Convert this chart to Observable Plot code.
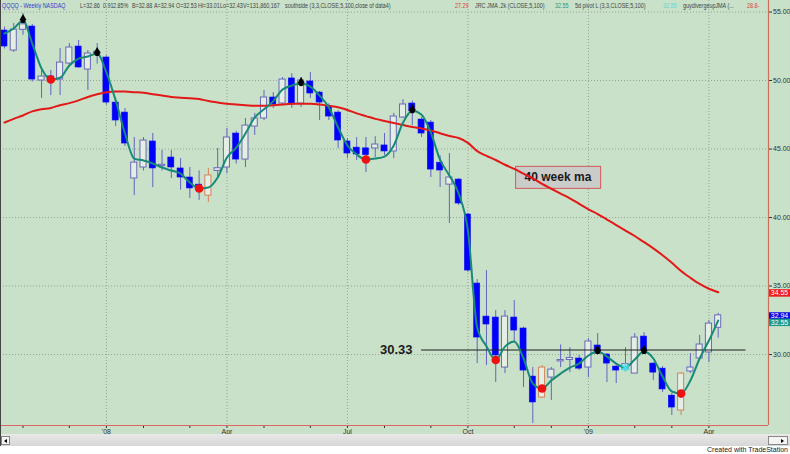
<!DOCTYPE html>
<html><head><meta charset="utf-8">
<script src="https://cdn.jsdelivr.net/npm/d3@7"></script>
<script src="https://cdn.jsdelivr.net/npm/@observablehq/plot@0.6"></script>
<style>
body{margin:0;background:#fff;}
#wrap{position:relative;width:790px;height:454px;overflow:hidden;font-family:"Liberation Sans",Arial,sans-serif;}
#chart svg{display:block;}
#hdr{position:absolute;top:0;left:0;width:790px;height:11px;font-size:7.5px;line-height:11px;color:#444;}
#hdr span{position:absolute;top:0;white-space:nowrap;transform:scaleX(0.72);transform-origin:0 0;}
#scroll{position:absolute;left:0;top:434px;width:790px;height:12px;background:linear-gradient(#e8e8e8,#d6d6d6);}
#lbtn{position:absolute;left:1px;top:2px;width:9px;height:9px;background:#f4f4f4;border:1px solid #888;box-sizing:border-box;}
#lbtn:after{content:"";position:absolute;left:2px;top:2px;border-right:3px solid #000;border-top:2px solid transparent;border-bottom:2px solid transparent;}
#rbtn{position:absolute;left:768px;top:2px;width:20px;height:9px;background:#f4f4f4;border:1px solid #888;box-sizing:border-box;}
#rbtn:after{content:"";position:absolute;left:12px;top:2px;border-left:3px solid #000;border-top:2px solid transparent;border-bottom:2px solid transparent;}
#lframe{position:absolute;left:0;top:0;width:1px;height:446px;background:#444;}
#credit{position:absolute;right:2px;top:445px;font-size:7px;line-height:9px;color:#222;}
</style></head>
<body>
<div id="wrap">
  <div id="chart"></div>
  <div id="hdr"></div>
  <div id="scroll"><div id="lbtn"></div><div id="rbtn"></div></div>
  <div id="lframe"></div>
  <div id="credit">Created with TradeStation</div>
</div>
<script>
// ---- data (weekly QQQQ, first bar week ending 2007-10-19) ----
const firstWeek = "2007-10-19";
const opens = [53.65,52.19,53.7,53.94,50.0,50.3,50.07,51.24,52.48,50.8,
51.9,51.68,48.39,47.66,42.85,43.65,45.55,43.75,44.38,43.58,
42.92,42.4,41.6,43.4,43.65,46.13,44.23,46.64,47.23,48.76,
48.32,50.15,48.32,49.93,49.12,48.1,47.66,45.55,45.1,45.05,
45.04,45.26,44.82,47.3,48.32,47.15,46.93,44.0,42.4,42.77,
40.22,35.18,32.77,32.7,29.05,32.7,31.9,28.39,26.86,28.32,
29.5,29.6,29.71,29.05,30.66,30.0,29.12,28.9,28.61,31.31,
29.34,28.97,27.0,25.91,28.76,29.71,30.15,31.95];
const highs = [53.9,54.16,54.9,54.1,50.73,50.73,52.34,52.7,52.92,52.19,
52.7,51.8,48.69,47.96,45.84,45.84,46.13,44.9,44.89,44.3,
43.65,43.4,43.58,45.04,46.5,46.3,47.23,47.6,49.27,49.12,
50.22,50.5,50.22,50.58,49.2,48.3,47.8,45.77,45.84,45.84,
45.9,46.13,47.6,48.6,48.5,47.3,47.08,44.5,44.67,42.85,
40.3,35.47,36.13,33.21,33.21,33.94,32.0,29.05,29.2,29.05,
30.7,30.5,29.93,31.17,31.53,30.07,29.34,30.5,31.53,31.6,
29.4,29.12,27.15,28.68,30.07,31.39,32.48,33.01];
const lows = [52.3,52.04,53.3,49.9,48.69,48.9,48.9,51.0,50.88,49.27,
51.2,48.2,46.64,45.18,41.6,43.4,42.19,43.4,42.85,42.0,
41.39,41.25,41.1,42.9,43.2,43.9,43.65,45.99,47.08,47.96,
48.25,47.96,48.03,48.69,47.08,47.08,45.04,44.3,44.16,43.28,
44.38,44.53,44.3,47.23,46.7,45.84,42.92,42.19,39.56,40.88,
36.0,29.34,29.2,27.96,28.61,30.88,27.59,24.96,26.79,26.64,
29.05,28.68,28.83,28.32,29.93,27.96,27.88,28.83,28.61,30.07,
28.1,27.23,25.55,25.55,28.61,29.71,29.42,31.2];
const closes = [52.48,53.72,54.1,50.07,50.29,49.9,51.31,52.41,50.95,51.97,
52.1,48.39,47.08,45.4,44.01,45.62,43.58,43.85,43.65,42.92,
42.12,42.0,43.07,43.6,45.84,44.23,46.71,47.23,48.76,48.25,
50.07,48.25,50.0,49.05,48.39,47.37,45.62,44.67,44.6,44.55,
45.33,44.82,47.37,48.25,47.74,46.13,43.5,43.43,42.92,41.02,
36.13,31.24,32.19,29.93,32.77,31.75,28.83,26.5,29.05,28.9,
29.6,29.75,28.97,30.95,30.07,29.34,28.83,29.3,31.24,30.29,
28.68,27.45,26.13,28.61,29.05,30.73,32.26,32.86];
const ma40 = [46.93,47.2,47.45,47.75,47.9,48.0,48.2,48.35,48.55,48.8,
49.0,49.15,49.2,49.2,49.15,49.1,49.0,48.9,48.8,48.75,
48.7,48.65,48.5,48.4,48.3,48.25,48.2,48.15,48.15,48.2,
48.25,48.3,48.3,48.3,48.25,48.15,48.05,47.85,47.6,47.4,
47.2,47.05,46.9,46.75,46.6,46.5,46.35,46.15,45.95,45.8,
45.45,44.85,44.5,44.2,43.85,43.55,43.2,42.85,42.45,42.1,
41.75,41.4,41.0,40.6,40.25,39.85,39.45,39.05,38.65,38.2,
37.75,37.25,36.7,36.1,35.6,35.15,34.8,34.55];
const jma = [53.43,53.8,54.38,52.7,50.88,50.07,50.2,51.1,51.6,51.75,
51.97,50.58,48.54,46.13,44.3,44.16,43.94,43.65,43.43,43.2,
42.55,42.12,42.19,42.92,44.38,45.1,46.13,47.3,47.9,48.5,
49.34,49.63,49.78,49.56,48.9,48.03,46.57,45.26,44.6,44.23,
44.3,44.45,45.26,46.93,47.8,47.5,46.2,44.2,43.07,41.75,
39.05,31.97,30.6,29.6,30.58,30.95,29.71,27.88,27.52,28.1,
28.61,29.05,29.34,29.93,30.22,29.85,29.34,29.05,29.64,30.22,
29.71,28.39,27.3,27.15,28.1,29.71,31.02,32.48];
const orangeBars = [22, 58, 73];
const pivotHighBars = [2, 10, 32, 44, 64, 69];
const pivotLowBars = [5, 21, 39, 53, 58, 73];
const pivotCyanBars = [67];
const yTicks = [30, 35, 40, 45, 50, 55];
const xTickDates = ["2008-01-04","2008-04-04","2008-07-04","2008-10-03","2009-01-02","2009-04-03"];
const xTickLabels = ["'08","Apr","Jul","Oct","'09","Apr"];
const supportLevel = [30.33];
const supportSpan = ["2008-08-29", "2009-05-01"];
const maLabelText = ["40 week ma"];
const maLabelAt = ["2008-12-10", 42.92];
const tagValues = [34.55, 32.94, 32.55];
const headerParts = [
  ["QQQQ - Weekly  NASDAQ", 2, "#3a3acc"], ["L=32.86", 80], ["0.91", 103], ["2.85%", 113],
  ["B=32.88", 132], ["A=32.94", 154], ["O=32.53", 176], ["Hi=33.01", 198], ["Lo=32.43", 220],
  ["V=131,860,167", 243], ["southside (3,3,CLOSE,5,100,close of data4)", 285],
  ["27.29", 455, "#e23a3a"], ["JRC JMA .2k (CLOSE,5,100)", 475], ["32.55", 555, "#1f9a8a"],
  ["5d pivot L (3,3,CLOSE,5,100)", 575], ["32.55", 663, "#5ad8d8"], ["guydivergeupJMA (...", 683],
  ["28.8-", 747, "#e23a3a"]
];

// ---- build ----
const parse = s => new Date(s + "T00:00:00Z");
const start = parse(firstWeek);
const dates = opens.map((_, i) => d3.utcDay.offset(start, 7 * i));
const candles = dates.map((date, i) => ({
  date, i, open: opens[i], high: highs[i], low: lows[i], close: closes[i],
  ma: ma40[i], jma: jma[i],
  kind: orangeBars.includes(i) ? "orange" : (closes[i] < opens[i] ? "down" : "up")
}));
const downs = candles.filter(d => d.kind === "down");
const ups = candles.filter(d => d.kind === "up");
const oranges = candles.filter(d => d.kind === "orange");
const monthTicks = dates.filter((d, i) => i > 0 && d.getUTCMonth() !== dates[i - 1].getUTCMonth());
const tickLabelOf = d => {
  const k = xTickDates.findIndex(t => +parse(t) === +d);
  return k >= 0 ? xTickLabels[k] : "";
};
const xDomain = [d3.utcDay.offset(start, -3), d3.utcDay.offset(start, 577)];
const yDomain = [24.82, 55.84];
const half = d => [d3.utcHour.offset(d, -55), d3.utcHour.offset(d, 55)];
const byBars = bars => bars.map(i => candles[i]);

const bg = "#c8e1c8", grid = "#93a693";
const hollowFill = "#e4eee4";
const tagColors = ["#ee1c1c", "#0a0ae6", "#1a9a8a"];
const tagDy = [1, 2, 3];

const marks = [
  Plot.ruleY(yTicks, {stroke: grid, strokeDasharray: "1,2"}),
  Plot.ruleX(xTickDates.map(parse), {stroke: grid, strokeDasharray: "1,2"}),
  Plot.text(maLabelText, {x: () => parse(maLabelAt[0]), y: () => maLabelAt[1], text: d => d,
    fontSize: 12, fontWeight: "bold", fill: "#1b1b1b"}),
  // wicks
  Plot.ruleX(candles.filter(d => d.kind !== "orange"), {x: "date", y1: "low", y2: "high", stroke: "#6464c0", strokeWidth: 1}),
  Plot.ruleX(oranges, {x: "date", y1: "low", y2: "high", stroke: "#d4845c", strokeWidth: 1}),
  // bodies
  Plot.rect(ups, {x1: d => half(d.date)[0], x2: d => half(d.date)[1], y1: "open", y2: "close",
    fill: hollowFill, stroke: "#6a6ab8", strokeWidth: 1}),
  Plot.rect(oranges, {x1: d => half(d.date)[0], x2: d => half(d.date)[1], y1: "open", y2: "close",
    fill: hollowFill, stroke: "#d4845c", strokeWidth: 1}),
  Plot.rect(downs, {x1: d => half(d.date)[0], x2: d => half(d.date)[1], y1: "open", y2: "close",
    fill: "#0000ff", stroke: "#1010ee", strokeWidth: 0.6}),
  // support line
  Plot.ruleY(supportLevel, {y: d => d, x1: () => parse(supportSpan[0]), x2: () => parse(supportSpan[1]),
    stroke: "#1e1e1e", strokeWidth: 1}),
  Plot.text(supportLevel, {y: d => d, x: () => parse(supportSpan[0]), dx: -9, text: d => d.toFixed(2),
    textAnchor: "end", fontSize: 13, fontWeight: "bold", fill: "#1b1b1b"}),
  // lines
  Plot.line(candles, {x: "date", y: "ma", stroke: "#e31818", strokeWidth: 2, curve: "monotone-x"}),
  Plot.line(candles, {x: "date", y: "jma", stroke: "#178a78", strokeWidth: 2, curve: "monotone-x"}),
  // pivots
  Plot.dot(byBars(pivotHighBars), {x: "date", y: "jma", r: 2.6, fill: "#000"}),
  Plot.dot(byBars(pivotHighBars), {x: "date", y: "jma", dy: -2.5, r: 2.6, symbol: "triangle", fill: "#000"}),
  Plot.dot(byBars(pivotLowBars), {x: "date", y: "jma", r: 4.3, fill: "#ee1111"}),
  Plot.dot(byBars(pivotCyanBars), {x: "date", y: "jma", r: 4, symbol: "asterisk", stroke: "#3fe0e8", strokeWidth: 1.8}),
  // frame lines
  Plot.ruleX([xDomain[1]], {stroke: "#c8705a", strokeWidth: 1.2}),
  Plot.ruleY([yDomain[0]], {stroke: "#e06464", strokeWidth: 1.2}),
];
tagValues.forEach((v, k) => {
  marks.push(Plot.text([v], {x: () => xDomain[1], y: d => d, dx: 11, dy: tagDy[k], text: d => d.toFixed(2),
    fill: "#fff", fontSize: 7}));
});

const chart = Plot.plot({
  width: 790, height: 434,
  marginLeft: 0, marginRight: 22, marginTop: 0, marginBottom: 9,
  style: {background: bg, color: "#333", fontFamily: "'Liberation Sans', Arial, sans-serif", fontSize: "7px", overflow: "visible"},
  x: {type: "utc", domain: xDomain, ticks: monthTicks, tickFormat: tickLabelOf, tickSize: 3, tickPadding: 1, label: null},
  y: {domain: yDomain, axis: "right", ticks: yTicks, tickFormat: d => d.toFixed(2), tickSize: 3, tickPadding: 1.5, label: null},
  marks
});
document.getElementById("chart").appendChild(chart);

// boxes behind labels (texts found by their content)
function boxBehind(content, opts) {
  const texts = Array.from(chart.querySelectorAll("text")).filter(t => t.textContent === content);
  texts.forEach(t => {
    const b = t.getBBox();
    const r = document.createElementNS("http://www.w3.org/2000/svg", "rect");
    const w = opts.w ?? b.width + 2 * opts.px;
    const h = opts.h ?? b.height + 2 * opts.py;
    r.setAttribute("x", b.x + b.width / 2 - w / 2);
    r.setAttribute("y", b.y + b.height / 2 - h / 2);
    r.setAttribute("width", w);
    r.setAttribute("height", h);
    r.setAttribute("fill", opts.fill);
    if (opts.stroke) { r.setAttribute("stroke", opts.stroke); r.setAttribute("stroke-width", 1); }
    if (t.getAttribute("transform")) r.setAttribute("transform", t.getAttribute("transform"));
    t.parentNode.insertBefore(r, t);
  });
}
boxBehind(maLabelText[0], {px: 9, py: 4, fill: "#c9ccc9", stroke: "#d25a5a"});
tagValues.forEach((v, k) => boxBehind(v.toFixed(2), {w: 21, h: 7.5, fill: tagColors[k]}));

// header
const hdr = document.getElementById("hdr");
headerParts.forEach(([t, x, c]) => {
  const s = document.createElement("span");
  s.textContent = t; s.style.left = x + "px";
  if (c) s.style.color = c;
  hdr.appendChild(s);
});
</script>
</body></html>
